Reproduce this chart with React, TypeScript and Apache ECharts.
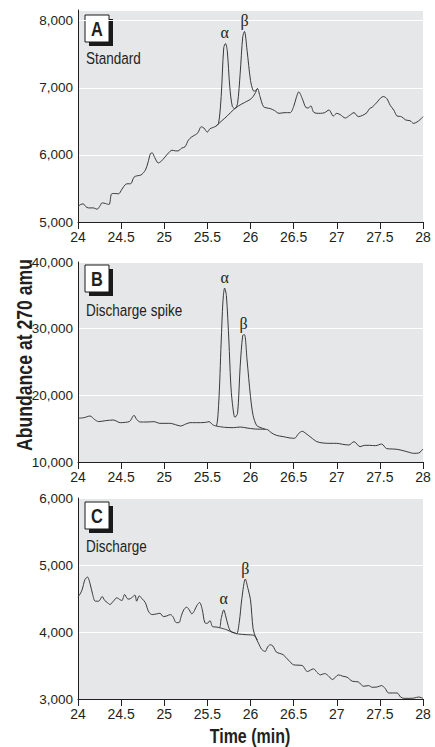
import React, { useEffect, useRef } from "react";
import * as echarts from "echarts";

// ---------- DATA ----------
const xTicks = [24, 24.5, 25, 25.5, 26, 26.5, 27, 27.5, 28];

// Panel A: Standard
const timeA = [24.00,24.03,24.06,24.09,24.12,24.18,24.22,24.25,24.28,24.32,24.36,24.39,24.43,24.47,24.51,24.55,24.58,24.61,24.65,24.69,24.73,24.78,24.81,24.84,24.86,24.89,24.93,24.96,25.01,25.05,25.09,25.13,25.16,25.20,25.24,25.28,25.32,25.36,25.39,25.43,25.46,25.50,25.53,25.57,25.60,25.63,25.66,25.69,25.71,25.73,25.76,25.79,25.82,25.85,25.88,25.91,25.93,25.96,26.00,26.03,26.05,26.08,26.11,26.15,26.19,26.23,26.28,26.33,26.40,26.46,26.50,26.53,26.56,26.60,26.64,26.67,26.70,26.73,26.77,26.81,26.86,26.91,26.96,27.00,27.04,27.10,27.15,27.20,27.25,27.30,27.35,27.38,27.41,27.47,27.51,27.54,27.58,27.62,27.66,27.70,27.75,27.80,27.85,27.89,27.93,27.97,28.00];
const abundA = [5230,5260,5270,5230,5210,5210,5190,5230,5285,5275,5260,5420,5425,5420,5490,5560,5570,5570,5670,5690,5700,5770,5880,6020,6030,5960,5880,5900,5970,6030,6070,6060,6060,6100,6120,6220,6270,6300,6330,6420,6400,6340,6390,6410,6430,6470,6870,7600,7660,7560,7010,6720,6690,6770,7210,7760,7840,7560,7110,6960,6950,6990,6870,6720,6700,6690,6660,6620,6630,6630,6720,6850,6940,6840,6710,6700,6730,6640,6620,6620,6630,6670,6580,6620,6600,6550,6590,6630,6570,6590,6630,6690,6710,6790,6850,6870,6840,6740,6670,6580,6570,6520,6510,6470,6490,6530,6570];
const baseTimeA = [25.60,25.66,25.73,25.80,25.86,25.93,26.01,26.05,26.08];
const baseA = [6430,6500,6580,6670,6730,6780,6840,6910,6990];
const peaksA = [{ name: "α", t: 25.70, v: 7663 }, { name: "β", t: 25.93, v: 7840 }];

// Panel B: Discharge spike
const timeB = [24.00,24.07,24.14,24.19,24.24,24.32,24.41,24.49,24.55,24.60,24.65,24.68,24.72,24.80,24.88,24.95,25.02,25.07,25.13,25.19,25.25,25.30,25.36,25.42,25.48,25.52,25.56,25.60,25.63,25.66,25.68,25.70,25.72,25.75,25.77,25.79,25.82,25.85,25.88,25.91,25.93,25.96,26.00,26.03,26.07,26.11,26.17,26.20,26.24,26.30,26.38,26.46,26.51,26.56,26.60,26.64,26.70,26.77,26.84,26.92,27.00,27.07,27.14,27.20,27.27,27.32,27.38,27.45,27.52,27.58,27.65,27.70,27.77,27.84,27.89,27.95,28.00];
const abundB = [16560,16650,16900,16400,16060,16200,16300,15900,15950,16100,17000,16400,16000,16000,16050,15800,15800,15800,15600,15400,15700,15900,15900,15900,15950,16050,15600,15400,18500,28000,34000,36090,35000,28000,22000,18800,16700,17300,24300,29000,29100,25300,19800,17000,15500,15200,14910,14850,14400,14000,13800,13600,13560,14300,14600,14300,13700,13050,12850,12800,12800,12650,12550,13050,12300,12500,12500,12450,12700,12000,11950,11900,11700,11450,11300,11350,11950];
const baseTimeB = [25.60,25.70,25.80,25.88,25.96,26.04,26.17];
const baseB = [15400,15200,15150,15250,15100,14960,14910];
const peaksB = [{ name: "α", t: 25.70, v: 36090 }, { name: "β", t: 25.92, v: 29100 }];

// Panel C: Discharge
const timeC = [24.00,24.03,24.05,24.08,24.11,24.14,24.17,24.20,24.24,24.28,24.31,24.34,24.37,24.41,24.45,24.49,24.51,24.54,24.57,24.59,24.62,24.66,24.68,24.71,24.74,24.78,24.82,24.86,24.91,24.95,24.99,25.03,25.07,25.10,25.14,25.17,25.20,25.23,25.26,25.29,25.32,25.35,25.38,25.41,25.44,25.47,25.50,25.53,25.56,25.60,25.64,25.66,25.69,25.71,25.74,25.77,25.81,25.84,25.87,25.90,25.94,25.97,26.00,26.03,26.06,26.09,26.13,26.17,26.20,26.23,26.26,26.30,26.34,26.38,26.44,26.50,26.55,26.60,26.66,26.73,26.77,26.81,26.86,26.90,26.95,27.02,27.07,27.12,27.18,27.25,27.31,27.37,27.41,27.47,27.52,27.56,27.60,27.66,27.70,27.74,27.78,27.85,27.90,27.95,28.00];
const abundC = [4520,4580,4640,4780,4820,4720,4560,4460,4460,4530,4470,4440,4410,4460,4510,4480,4470,4560,4500,4490,4510,4550,4460,4540,4500,4440,4300,4260,4270,4280,4230,4240,4260,4230,4140,4140,4250,4340,4370,4330,4270,4320,4400,4440,4340,4140,4130,4170,4080,4075,4065,4200,4330,4250,4100,4010,3990,3975,4150,4500,4790,4650,4480,4050,3920,3840,3740,3710,3780,3810,3790,3700,3680,3660,3580,3510,3505,3500,3410,3450,3400,3360,3380,3350,3290,3360,3340,3325,3265,3255,3190,3200,3175,3180,3200,3160,3090,3090,3090,3030,3010,3010,3015,3030,3010];
const baseTimeC = [25.64,25.72,25.80,25.86,25.95,26.04,26.08];
const baseC = [4065,4035,3990,3970,3960,3950,3880];
const peaksC = [{ name: "α", t: 25.69, v: 4330 }, { name: "β", t: 25.94, v: 4790 }];

// Y axis ranges per panel
const yMin = [5000, 10000, 3000];
const yMax = [8160, 40000, 6000];
const yStep = [1000, 10000, 1000];
const panelLetters = ["A", "B", "C"];
const panelNames = ["Standard", "Discharge spike", "Discharge"];

// ---------- LAYOUT / STYLE ----------
const FONT = "'Liberation Sans', Arial, sans-serif";
const SERIF = "'Liberation Serif', 'DejaVu Serif', serif";
const INK = "#231f20";
const LINE = "#3a3a3a";
const GRAY = "#e6e7e8";
const NARROW = 0.82;
const gridTops = [10, 262, 498];
const gridHeights = [212, 200, 201];
const boxTops = [15, 265, 502];
const nameY = [58, 310, 546];

const zip = (ts: number[], vs: number[]) => ts.map((t, i) => [t, vs[i]]);

export default function App() {
  const ref = useRef<HTMLDivElement>(null);
  useEffect(() => {
    document.body.style.margin = "0";
    if (!ref.current) return;
    const chart = echarts.init(ref.current, null, { renderer: "svg" });
    const traces = [zip(timeA, abundA), zip(timeB, abundB), zip(timeC, abundC)];
    const bases = [zip(baseTimeA, baseA), zip(baseTimeB, baseB), zip(baseTimeC, baseC)];
    const peaks = [peaksA, peaksB, peaksC];

    const grids = [0, 1, 2].map((i) => ({
      left: 78,
      right: 12,
      top: gridTops[i],
      height: gridHeights[i],
      show: true,
      backgroundColor: GRAY,
      borderWidth: 0,
    }));
    const xAxes = [0, 1, 2].map((i) => ({
      type: "value",
      gridIndex: i,
      min: xTicks[0],
      max: xTicks[xTicks.length - 1],
      interval: 0.5,
      axisLine: { show: true, lineStyle: { color: INK, width: 1 } },
      axisTick: { show: true, length: 7, lineStyle: { color: INK } },
      splitLine: { show: false },
      axisLabel: {
        color: INK,
        fontSize: 14,
        fontFamily: FONT,
        margin: 8,
        formatter: (v: number) => String(v),
      },
    }));
    const yAxes = [0, 1, 2].map((i) => ({
      type: "value",
      gridIndex: i,
      min: yMin[i],
      max: yMax[i],
      interval: yStep[i],
      axisLine: { show: true, lineStyle: { color: INK, width: 1 } },
      axisTick: { show: false },
      splitLine: { show: true, lineStyle: { color: "#ffffff", width: 1.2 } },
      axisLabel: {
        color: INK,
        fontSize: 13.5,
        fontFamily: FONT,
        margin: 5,
        formatter: (v: number) =>
          Math.abs(v / yStep[i] - Math.round(v / yStep[i])) < 1e-6 ? v.toLocaleString("en-US") : "",
      },
    }));
    const series: any[] = [];
    [0, 1, 2].forEach((i) => {
      series.push({
        type: "line",
        xAxisIndex: i,
        yAxisIndex: i,
        data: traces[i],
        showSymbol: false,
        smooth: 0.3,
        lineStyle: { color: LINE, width: 1 },
        markPoint: {
          symbol: "circle",
          symbolSize: 0,
          silent: true,
          label: {
            show: true,
            position: "inside",
            offset: [0, -11],
            fontFamily: SERIF,
            fontSize: 16,
            color: INK,
            formatter: (p: any) => p.name,
          },
          data: peaks[i].map((p) => ({ name: p.name, coord: [p.t, p.v] })),
        },
      });
      series.push({
        type: "line",
        xAxisIndex: i,
        yAxisIndex: i,
        data: bases[i],
        showSymbol: false,
        smooth: 0.3,
        lineStyle: { color: LINE, width: 1 },
      });
    });

    const graphic: any[] = [];
    [0, 1, 2].forEach((i) => {
      const by = boxTops[i];
      graphic.push({ type: "rect", shape: { x: 89, y: by + 4, width: 24, height: 27 }, style: { fill: "#1a1a1a" } });
      graphic.push({ type: "rect", shape: { x: 85, y: by, width: 24, height: 27 }, style: { fill: "#ffffff", stroke: "#1a1a1a", lineWidth: 1 } });
      graphic.push({
        type: "text",
        x: 97,
        y: by + 14,
        scaleX: NARROW,
        style: { text: panelLetters[i], fontSize: 20, fontWeight: "bold", fontFamily: FONT, fill: INK, align: "center", verticalAlign: "middle" },
      });
      graphic.push({
        type: "text",
        x: 86,
        y: nameY[i],
        scaleX: NARROW,
        style: { text: panelNames[i], fontSize: 16.5, fontFamily: FONT, fill: INK, align: "left", verticalAlign: "middle" },
      });
    });
    graphic.push({
      type: "text",
      x: 24,
      y: 355,
      rotation: Math.PI / 2,
      scaleX: NARROW,
      style: { text: "Abundance at 270 amu", fontSize: 21.5, fontWeight: "bold", fontFamily: FONT, fill: INK, align: "center", verticalAlign: "middle" },
    });
    graphic.push({
      type: "text",
      x: 250,
      y: 736,
      scaleX: NARROW,
      style: { text: "Time (min)", fontSize: 19.5, fontWeight: "bold", fontFamily: FONT, fill: INK, align: "center", verticalAlign: "middle" },
    });

    chart.setOption({
      animation: false,
      grid: grids,
      xAxis: xAxes,
      yAxis: yAxes,
      series,
      graphic,
    });
    return () => chart.dispose();
  }, []);
  return <div ref={ref} style={{ width: 435, height: 747 }} />;
}
